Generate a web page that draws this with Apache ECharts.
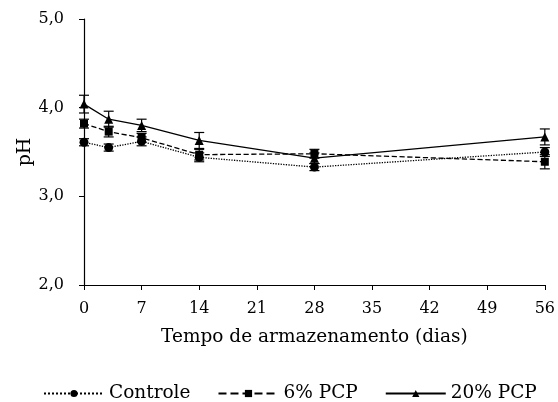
<!DOCTYPE html>
<html>
<head>
<meta charset="utf-8">
<script src="https://cdn.jsdelivr.net/npm/echarts@6/dist/echarts.min.js"></script>
<style>
  html, body { margin: 0; padding: 0; background: #fff; }
  #chart { width: 558px; height: 402px; }
</style>
</head>
<body>
<div id="chart"></div>
<script>
// dias de armazenamento
var days = [0, 3, 7, 14, 28, 56];
var xTicks = [0, 7, 14, 21, 28, 35, 42, 49, 56];

// pH medio
var controle = [3.61, 3.55, 3.62, 3.44, 3.33, 3.50];
var pcp6 = [3.82, 3.73, 3.66, 3.47, 3.48, 3.39];
var pcp20 = [4.04, 3.87, 3.80, 3.63, 3.43, 3.67];

// desvio padrao
var errControle = [0.04, 0.04, 0.05, 0.05, 0.04, 0.05];
var errPcp6 = [0.05, 0.06, 0.05, 0.06, 0.05, 0.08];
var errPcp20 = [0.10, 0.09, 0.07, 0.09, 0.06, 0.09];

var FONT = 'DejaVu Serif';

function pairs(vals) {
    return days.map(function (d, i) { return [d, vals[i]]; });
}

function errData(vals, errs) {
    return days.map(function (d, i) { return [d, vals[i] - errs[i], vals[i] + errs[i]]; });
}

function renderErr(params, api) {
    var lo = api.coord([api.value(0), api.value(1)]);
    var hi = api.coord([api.value(0), api.value(2)]);
    var w = 5;
    var st = { stroke: '#000', lineWidth: 1.2 };
    return {
        type: 'group',
        children: [
            { type: 'line', shape: { x1: lo[0], y1: lo[1], x2: hi[0], y2: hi[1] }, style: st },
            { type: 'line', shape: { x1: lo[0] - w, y1: lo[1], x2: lo[0] + w, y2: lo[1] }, style: st },
            { type: 'line', shape: { x1: hi[0] - w, y1: hi[1], x2: hi[0] + w, y2: hi[1] }, style: st }
        ]
    };
}

function errSeries(vals, errs) {
    return {
        type: 'custom',
        renderItem: renderErr,
        data: errData(vals, errs),
        z: 3,
        silent: true,
        encode: { x: 0, y: [1, 2] }
    };
}

function lineSeries(name, vals, symbol, size, lineType) {
    return {
        name: name,
        type: 'line',
        data: pairs(vals),
        symbol: symbol,
        symbolSize: size,
        showAllSymbol: true,
        z: 4,
        itemStyle: { color: '#000', borderWidth: 0 },
        lineStyle: { color: '#000', width: 1.3, type: lineType },
        animation: false
    };
}

var chart = echarts.init(document.getElementById('chart'));
chart.setOption({
    animation: false,
    backgroundColor: '#fff',
    textStyle: { fontFamily: FONT, color: '#000' },
    grid: { left: 84, right: 10, top: 19, bottom: 117 },
    legend: {
        top: 379,
        left: 38,
        itemWidth: 60,
        itemHeight: 9,
        itemGap: 27,
        textStyle: { fontFamily: FONT, fontSize: 18.5, color: '#000' },
        data: ['Controle', '6% PCP', '20% PCP']
    },
    xAxis: {
        type: 'value',
        min: 0,
        max: 56,
        interval: 7,
        name: 'Tempo de armazenamento (dias)',
        nameLocation: 'middle',
        nameGap: 43,
        nameMoveOverlap: false,
        nameTextStyle: { fontFamily: FONT, fontSize: 18.5, color: '#000' },
        axisLine: { lineStyle: { color: '#000', width: 1.2 } },
        axisTick: { length: 5, lineStyle: { color: '#000' } },
        axisLabel: { fontFamily: FONT, fontSize: 16, color: '#000', margin: 16 },
        splitLine: { show: false }
    },
    yAxis: {
        type: 'value',
        min: 2,
        max: 5,
        interval: 1,
        name: 'pH',
        nameLocation: 'middle',
        nameGap: 49,
        nameMoveOverlap: false,
        nameTextStyle: { fontFamily: FONT, fontSize: 19, color: '#000' },
        axisLine: { show: true, lineStyle: { color: '#000', width: 1.2 } },
        axisTick: { show: true, length: 5, lineStyle: { color: '#000' } },
        axisLabel: {
            fontFamily: FONT, fontSize: 16, color: '#000', margin: 20,
            formatter: function (v) { return v.toFixed(1).replace('.', ','); }
        },
        splitLine: { show: false }
    },
    series: [
        errSeries(controle, errControle),
        errSeries(pcp6, errPcp6),
        errSeries(pcp20, errPcp20),
        lineSeries('Controle', controle, 'circle', 9, 'dotted'),
        lineSeries('6% PCP', pcp6, 'rect', 8, 'dashed'),
        lineSeries('20% PCP', pcp20, 'triangle', 9, 'solid')
    ]
});
</script>
</body>
</html>
